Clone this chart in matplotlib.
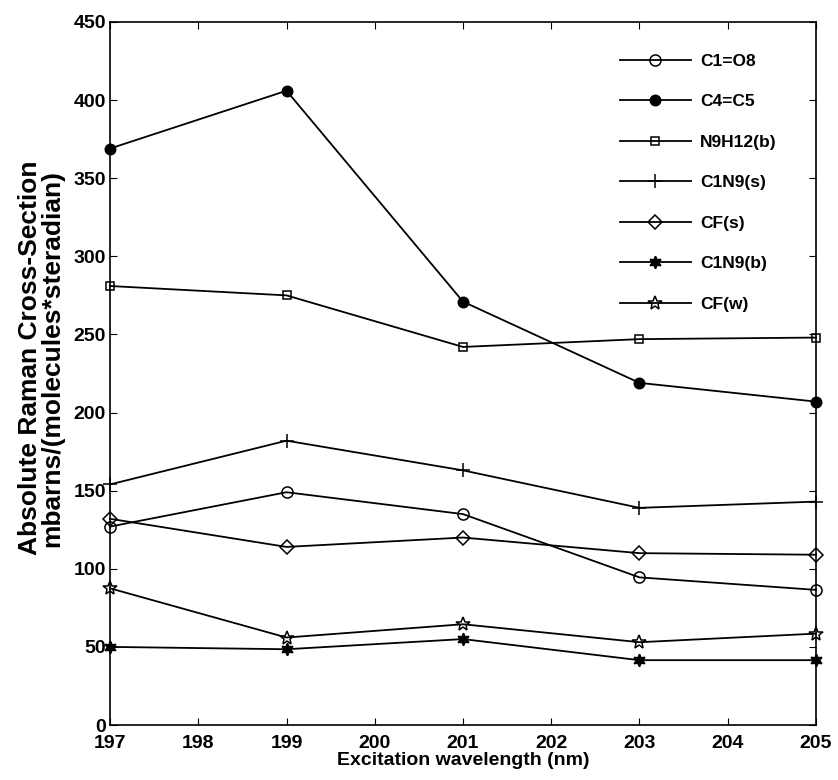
import matplotlib
matplotlib.use("Agg")
import matplotlib.pyplot as plt

plt.rcParams['font.family'] = ['Liberation Sans', 'DejaVu Sans']
plt.rcParams['font.weight'] = 'bold'

wavelength = [197, 199, 201, 203, 205]

c1_o8 = [127, 149, 135, 94.5, 86.5]
c4_c5 = [369, 406, 271, 219, 207]
n9h12_b = [281, 275, 242, 247, 248]
c1n9_s = [154, 182, 163, 139, 143]
cf_s = [132, 114, 120, 110, 109]
c1n9_b = [50, 48.5, 55, 41.5, 41.5]
cf_w = [87.5, 56, 64.5, 53, 58.5]

series_labels = ['C1=O8', 'C4=C5', 'N9H12(b)', 'C1N9(s)', 'CF(s)', 'C1N9(b)', 'CF(w)']
x_ticks = [197, 198, 199, 200, 201, 202, 203, 204, 205]
y_ticks = [0, 50, 100, 150, 200, 250, 300, 350, 400, 450]

fig = plt.figure(figsize=(8.38, 7.80), dpi=100)
ax = fig.add_axes([0.1313, 0.0705, 0.8424, 0.9013])

styles = [
    dict(marker='o', ms=8, mfc='none'),
    dict(marker='o', ms=7.5, mfc='black'),
    dict(marker='s', ms=5.5, mfc='none'),
    dict(marker='+', ms=10, mfc='none'),
    dict(marker='D', ms=7, mfc='none'),
    dict(marker=(6, 1, 0), ms=9, mfc='black'),
    dict(marker='*', ms=10, mfc='none'),
]

for vals, lab, st in zip([c1_o8, c4_c5, n9h12_b, c1n9_s, cf_s, c1n9_b, cf_w],
                         series_labels, styles):
    ax.plot(wavelength, vals, color='black', lw=1.3, mec='black', mew=1.1,
            label=lab, clip_on=False, zorder=3, **st)

ax.set_xlim(197, 205)
ax.set_ylim(0, 450)
ax.set_xticks(x_ticks)
ax.set_yticks(y_ticks)
ax.tick_params(direction='in', length=5, width=0.8, top=True, right=True,
               labelsize=14)
ax.tick_params(axis='y', pad=3)
ax.tick_params(axis='x', pad=7.5)
for lbl in ax.get_xticklabels() + ax.get_yticklabels():
    lbl.set_fontweight('bold')
for sp in ax.spines.values():
    sp.set_linewidth(1.2)

ax.set_xlabel('Excitation wavelength (nm)', fontsize=14, fontweight='bold', labelpad=0)
ax.set_ylabel('Absolute Raman Cross-Section\nmbarns/(molecules*steradian)',
              fontsize=19, fontweight='bold', linespacing=0.9)
ax.yaxis.set_label_coords(-0.0652, 0.522)

leg = ax.legend(loc='upper left', bbox_to_anchor=(0.7224, 0.9547), frameon=False,
                borderaxespad=0, borderpad=0,
                handlelength=4.08, handletextpad=0.52, labelspacing=1.46,
                prop={'size': 12.5, 'weight': 'bold'})

fig.savefig('out.png', dpi=100)
